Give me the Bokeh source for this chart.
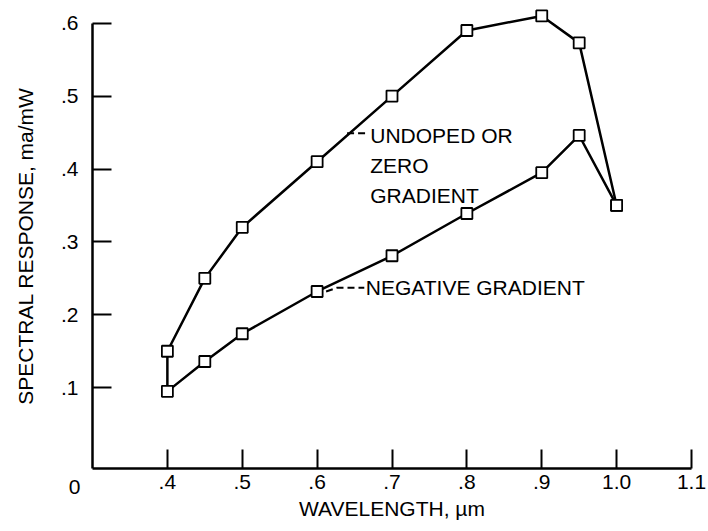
from bokeh.plotting import figure
from bokeh.models import Range1d, FixedTicker, Label
from bokeh.embed import file_html
from bokeh.resources import INLINE

# ---- data ----
wavelength = [0.4, 0.45, 0.5, 0.6, 0.7, 0.8, 0.9, 0.95, 1.0]
undoped_zero = [0.15, 0.25, 0.32, 0.41, 0.50, 0.59, 0.61, 0.573, 0.35]
negative_grad = [0.095, 0.136, 0.174, 0.232, 0.281, 0.339, 0.395, 0.446, 0.35]

x_ticks = [0.4, 0.5, 0.6, 0.7, 0.8, 0.9, 1.0, 1.1]
x_tick_labels = [".4", ".5", ".6", ".7", ".8", ".9", "1.0", "1.1"]
y_ticks = [0.1, 0.2, 0.3, 0.4, 0.5, 0.6]
y_tick_labels = [".1", ".2", ".3", ".4", ".5", ".6"]

# ---- layout: the frame fills the canvas, axes sit at fixed locations ----
W, H = 708, 531
AX_X0, AX_X1 = 0.3, 1.1          # x-axis extent (data)
AX_Y0, AX_Y1 = -0.0108, 0.6      # y-axis extent (data)
PX_LEFT, PX_RIGHT = 92, 691      # pixel columns of AX_X0 / AX_X1
PX_BOTTOM, PX_TOP6 = 468, 22.7   # pixel rows of AX_Y0 / 0.6
sx = (AX_X1 - AX_X0) / (PX_RIGHT - PX_LEFT)
sy = (AX_Y1 - AX_Y0) / (PX_BOTTOM - PX_TOP6)
x_range = Range1d(AX_X0 - PX_LEFT * sx, AX_X1 + (W - PX_RIGHT) * sx)
y_range = Range1d(AX_Y0 - (H - PX_BOTTOM) * sy, AX_Y1 + PX_TOP6 * sy)

FONT = "Liberation Sans"
FS = "21px"

p = figure(width=W, height=H, x_range=x_range, y_range=y_range,
           output_backend="svg", toolbar_location=None,
           min_border_left=0, min_border_right=0,
           min_border_top=0, min_border_bottom=0)
p.outline_line_color = None
p.grid.visible = False
p.background_fill_color = "white"
p.border_fill_color = "white"

for ax in (p.xaxis[0], p.yaxis[0]):
    ax.axis_line_width = 2.5
    ax.axis_line_color = "black"
    ax.major_tick_line_width = 2
    ax.major_tick_line_color = "black"
    ax.major_tick_in = 19
    ax.major_tick_out = 0
    ax.minor_tick_line_color = None
    ax.major_label_text_font = FONT
    ax.major_label_text_font_size = FS
    ax.major_label_text_color = "black"
    ax.axis_label_text_font = FONT
    ax.axis_label_text_font_size = FS
    ax.axis_label_text_font_style = "normal"
    ax.axis_label_text_color = "black"

p.xaxis.fixed_location = AX_Y0
p.xaxis.ticker = FixedTicker(ticks=x_ticks)
p.xaxis.major_label_overrides = dict(zip(x_ticks, x_tick_labels))
p.xaxis.bounds = (AX_X0, AX_X1)
p.xaxis.axis_label = "WAVELENGTH, \u00b5m"
p.xaxis.major_label_standoff = 6
p.xaxis.axis_label_standoff = 5

p.yaxis.fixed_location = AX_X0
p.yaxis.ticker = FixedTicker(ticks=y_ticks)
p.yaxis.major_label_overrides = dict(zip(y_ticks, y_tick_labels))
p.yaxis.bounds = (AX_Y0, AX_Y1)
p.yaxis.axis_label = "SPECTRAL RESPONSE, ma/mW"
p.yaxis.major_label_standoff = 14
p.yaxis.axis_label_standoff = 21

# curves
p.line(wavelength, undoped_zero, line_color="black", line_width=2.5)
p.line(wavelength, negative_grad, line_color="black", line_width=2.5)
p.segment(x0=[wavelength[0]], y0=[negative_grad[0]], x1=[wavelength[0]], y1=[undoped_zero[0]],
          line_color="black", line_width=2.5)
p.scatter(wavelength, undoped_zero, marker="square", size=11,
          fill_color="white", line_color="black", line_width=1.8)
p.scatter(wavelength, negative_grad, marker="square", size=11,
          fill_color="white", line_color="black", line_width=1.8)

# annotation leaders
p.line([0.640, 0.668], [0.449, 0.449], line_color="black", line_width=2, line_dash="7 4")
p.line([0.612, 0.626, 0.663], [0.232, 0.237, 0.237], line_color="black", line_width=2, line_dash="7 4")

for txt, yv in (("UNDOPED OR", 0.446), ("ZERO", 0.405), ("GRADIENT", 0.364)):
    p.add_layout(Label(x=0.671, y=yv, text=txt, text_font=FONT, text_font_size=FS,
                       text_baseline="middle", text_align="left", text_color="black"))
p.add_layout(Label(x=0.665, y=0.237, text="NEGATIVE GRADIENT", text_font=FONT,
                   text_font_size=FS, text_baseline="middle", text_align="left",
                   text_color="black"))

# origin label "0" at the lower-left corner
p.add_layout(Label(x=AX_X0, y=AX_Y0, x_offset=-18, y_offset=-18, text="0",
                   text_font=FONT, text_font_size=FS, text_baseline="middle",
                   text_align="center", text_color="black"))

open("out.html", "w").write(file_html(p, INLINE))
